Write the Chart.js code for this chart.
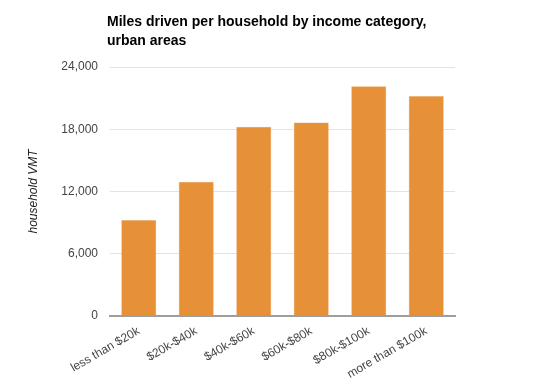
<!DOCTYPE html>
<html><head><meta charset="utf-8">
<script src="https://cdn.jsdelivr.net/npm/chart.js@4/dist/chart.umd.min.js"></script>
<style>html,body{margin:0;padding:0;background:#fff}#wrap{width:540px;height:386px;position:relative}</style>
</head><body><div id="wrap"><canvas id="c" width="540" height="386"></canvas></div>
<script>
const categories = ["less than $20k", "$20k-$40k", "$40k-$60k", "$60k-$80k", "$80k-$100k", "more than $100k"];
const milesDriven = [9250, 12950, 18250, 18650, 22150, 21200];
const titleLines = ["Miles driven per household by income category,", "urban areas"];
const yAxisTitle = "household VMT";

const titlePlugin = {
  id: 'leftTitle',
  afterDraw(chart) {
    const ctx = chart.ctx;
    ctx.save();
    ctx.font = 'bold 14px "Liberation Sans", Arial, sans-serif';
    ctx.fillStyle = '#000';
    ctx.textBaseline = 'alphabetic';
    ctx.textAlign = 'left';
    titleLines.forEach((t, i) => ctx.fillText(t, chart.chartArea.left - 3, 26 + i * 19));
    ctx.restore();
  }
};

new Chart(document.getElementById('c'), {
  type: 'bar',
  data: { labels: categories, datasets: [{ data: milesDriven, backgroundColor: '#e69138', borderColor: '#f0b37a', borderWidth: 0.5, barPercentage: 0.61, categoryPercentage: 1 }] },
  options: {
    responsive: false, animation: false,
    layout: { padding: { top: 67, right: 85, left: 20, bottom: 0 } },
    plugins: { legend: { display: false }, tooltip: { enabled: false }, title: { display: false } },
    scales: {
      y: {
        min: 0, max: 24000,
        ticks: { stepSize: 6000, color: '#444', font: { family: '"Liberation Sans", Arial, sans-serif', size: 12 }, padding: 12,
          callback: v => v.toLocaleString('en-US') },
        grid: { color: '#e3e3e3', drawTicks: false, lineWidth: 1 },
        border: { display: false },
        title: { display: true, text: yAxisTitle, color: '#222', padding: { top: 6, bottom: 0 }, font: { family: '"Liberation Sans", Arial, sans-serif', size: 12, style: 'italic' } },
        afterFit(s) { s.width = 90; }
      },
      x: {
        ticks: { color: '#444', minRotation: 30, maxRotation: 30, padding: 8, font: { family: '"Liberation Sans", Arial, sans-serif', size: 12 } },
        grid: { display: false, drawTicks: false },
        border: { display: true, color: '#9e9e9e', width: 2 },
        afterFit(s) { s.height = 70; }
      }
    }
  },
  plugins: [titlePlugin]
});
</script></body></html>
